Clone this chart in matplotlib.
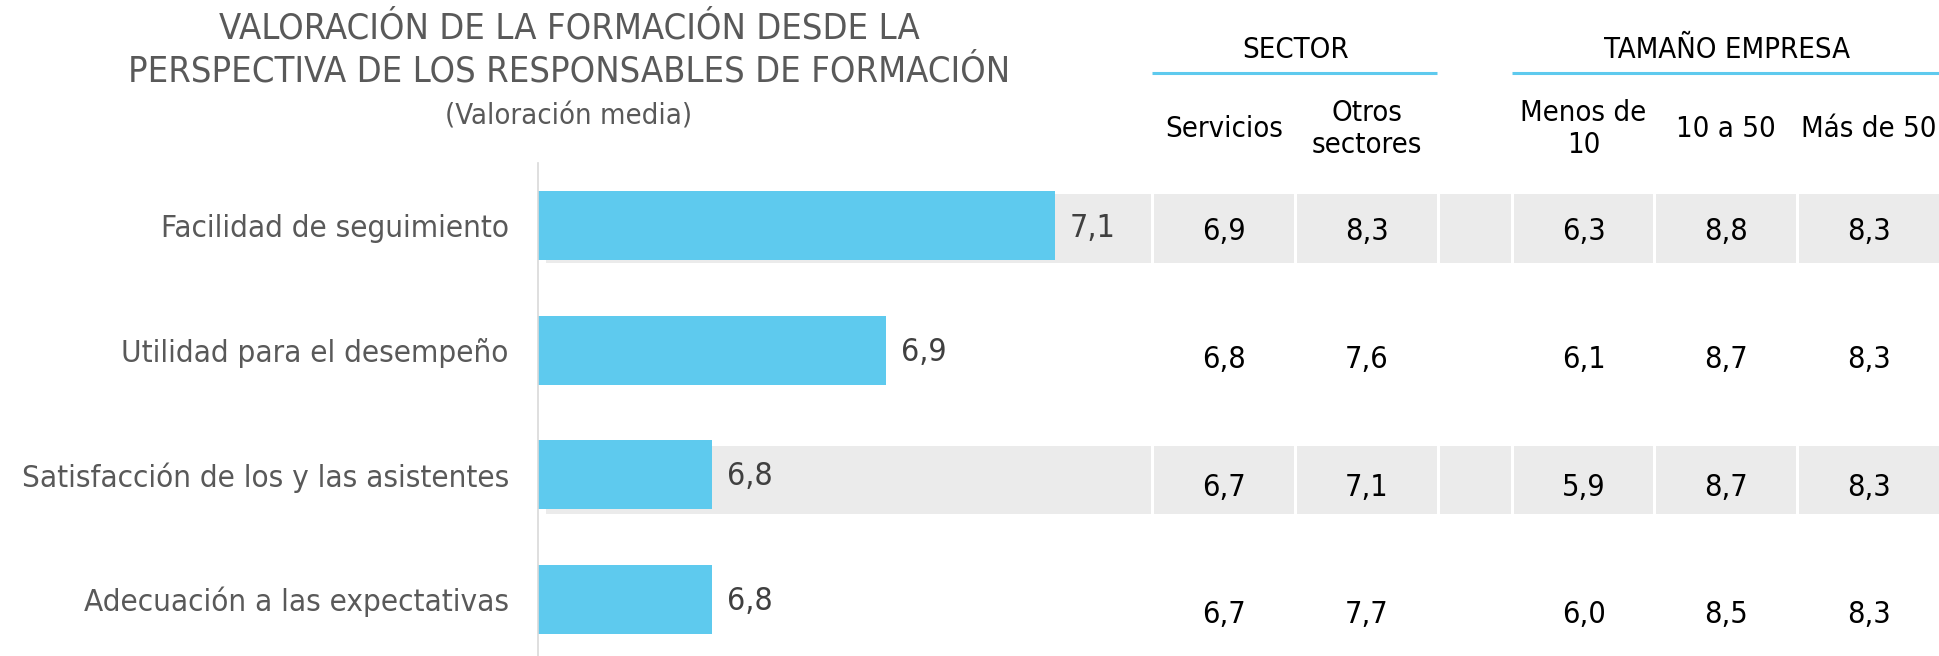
import matplotlib
matplotlib.use("Agg")
import matplotlib.pyplot as plt
from matplotlib.transforms import blended_transform_factory
import numpy as np

plt.rcParams['font.family'] = ['Liberation Sans Narrow', 'DejaVu Sans']
plt.rcParams['font.stretch'] = 'condensed'

# data
categorias = ["Facilidad de seguimiento", "Utilidad para el desempeño",
              "Satisfacción de los y las asistentes", "Adecuación a las expectativas"]
valoracion = [7.075, 6.92, 6.76, 6.76]

servicios = [6.9, 6.8, 6.7, 6.7]
otros_sectores = [8.3, 7.6, 7.1, 7.7]
menos_10 = [6.3, 6.1, 5.9, 6.0]
de_10_a_50 = [8.8, 8.7, 8.7, 8.5]
mas_50 = [8.3, 8.3, 8.3, 8.3]

col_labels = ["Servicios", "Otros\nsectores", "", "Menos de\n10", "10 a 50", "Más de 50"]
col_values = [servicios, otros_sectores, None, menos_10, de_10_a_50, mas_50]
col_widths = [1.0, 1.0, 0.52, 1.0, 1.0, 1.0]
grupos = [("SECTOR", 0, 1), ("TAMAÑO EMPRESA", 3, 5)]

titulo = "VALORACIÓN DE LA FORMACIÓN DESDE LA\nPERSPECTIVA DE LOS RESPONSABLES DE FORMACIÓN"
subtitulo = "(Valoración media)"

CYAN = "#5ECAEE"
GRIS = "#EBEBEB"

def fmt(v):
    return f"{v:.1f}".replace(".", ",")

W, H = 1939, 656
fig = plt.figure(figsize=(W / 100, H / 100), dpi=100)

top = 1 - 163 / H
ax = fig.add_axes([538 / W, 0, (1151 - 538) / W, top])
axt = fig.add_axes([1151 / W, 0, 788 / W, top])

y = np.arange(len(categorias))
x0 = 6.6
ylim = (3.457, -0.506)

# the table rows sit on a slightly wider pitch than the bars
y_banda = 0.02 + y * 1.011
y_tabla = 0.046 + y * 1.027

# bands on shaded rows
filas_grises = [0, 2]
for r in filas_grises:
    ax.axhspan(y_banda[r] - 0.277, y_banda[r] + 0.277, xmin=8 / 613, xmax=1,
               color=GRIS, lw=0, zorder=0)

ax.barh(y, np.array(valoracion) - x0, left=x0, height=0.555, color=CYAN, zorder=2)
for yi, v in zip(y, valoracion):
    ax.annotate(fmt(v), (v, yi), xytext=(11, -1.5), textcoords="offset points",
                va="center", ha="left", fontsize=23, color="#404040")

ax.set_xlim(x0, x0 + 613 / 1087.5)
ax.set_ylim(*ylim)
ax.set_yticks(y)
ax.set_yticklabels(categorias, fontsize=22.5, color="#595959")
ax.tick_params(axis="y", length=0, pad=21)
ax.set_xticks([])
for s in ["top", "right", "bottom"]:
    ax.spines[s].set_visible(False)
ax.spines["left"].set_color("#D9D9D9")
ax.spines["left"].set_linewidth(1.2)

# table
lefts = np.concatenate([[0], np.cumsum(col_widths)[:-1]])
gap = 0.021
for i, (l, w) in enumerate(zip(lefts, col_widths)):
    for r in filas_grises:
        axt.barh(y_banda[r], w - gap, left=l + gap, height=0.554, color=GRIS, lw=0, zorder=0)
    vals = col_values[i]
    if vals is None:
        continue
    for r, v in enumerate(vals):
        axt.text(l + gap / 2 + w / 2, y_tabla[r], fmt(v), ha="center", va="center",
                 fontsize=22, color="black")

axt.set_xlim(0, sum(col_widths))
axt.set_ylim(*ylim)
axt.axis("off")

# headers
tr = blended_transform_factory(axt.transData, fig.transFigure)
for i, (l, w) in enumerate(zip(lefts, col_widths)):
    if col_labels[i]:
        axt.text(l + gap / 2 + w / 2, 1 - 129 / H, col_labels[i], transform=tr,
                 ha="center", va="center", fontsize=21, color="black", linespacing=1.15)
for nombre, a, b in grupos:
    xa = lefts[a] + gap / 2
    xb = lefts[b] + col_widths[b]
    axt.text((xa + xb) / 2 + gap / 2, 1 - 50 / H, nombre, transform=tr,
             ha="center", va="center", fontsize=21, color="black")
    axt.plot([xa, xb], [1 - 73 / H, 1 - 73 / H], transform=tr, color=CYAN,
             lw=2.2, solid_capstyle="butt", clip_on=False)

# title
fig.text(569 / W, 1 - 50 / H, titulo, ha="center", va="center", fontsize=26,
         color="#595959", linespacing=1.35)
fig.text(569 / W, 1 - 116 / H, subtitulo, ha="center", va="center", fontsize=21,
         color="#595959")

fig.savefig("out.png", dpi=100)
